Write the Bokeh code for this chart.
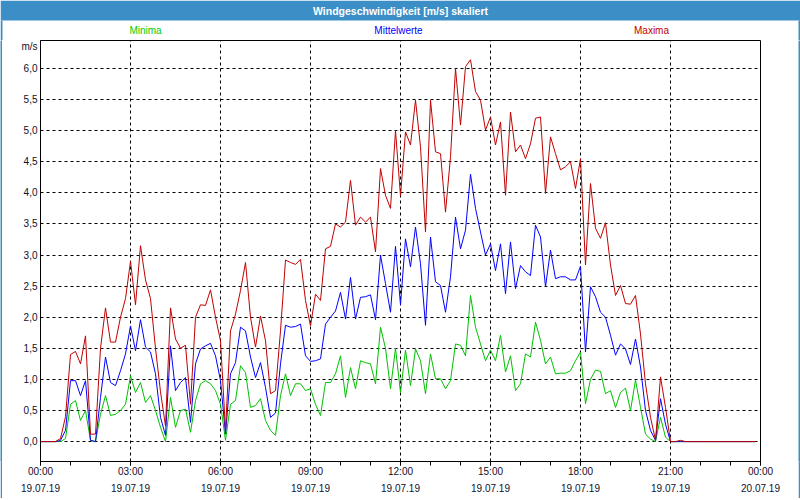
from bokeh.plotting import figure
from bokeh.layouts import column, row
from bokeh.models import Range1d, FixedTicker, ColumnDataSource
from bokeh.core.properties import value
from bokeh.embed import file_html
from bokeh.resources import INLINE

# time in minutes since 19.07.19 00:00, 10-minute steps
minutes = list(range(0, 1440, 10))

maxima = [0, 0, 0, 0, 0.05, 0.4, 1.4, 1.45, 1.25, 1.7,
          0.12, 0.12, 1.5, 2.15, 1.6, 1.6, 2.0, 2.3, 2.9, 2.2,
          3.15, 2.6, 2.3, 1.5, 0.8, 0.25, 2.15, 1.65, 1.5, 1.55,
          0.6, 2.0, 2.2, 2.19, 2.44, 2.0, 1.62, 0.18, 1.78, 2.05,
          2.43, 2.88, 2.0, 1.52, 2.02, 1.62, 0.77, 0.82, 1.78, 2.92,
          2.88, 2.85, 2.93, 2.27, 1.86, 2.37, 2.27, 3.1, 3.14, 3.5,
          3.45, 3.53, 4.2, 3.48, 3.61, 3.53, 3.61, 3.05, 4.39, 3.96,
          3.75, 5.0, 3.95, 4.98, 4.77, 5.49, 4.74, 3.37, 5.49, 4.66,
          4.63, 3.69, 4.58, 6.0, 5.09, 6.03, 6.14, 5.63, 5.49, 5.01,
          5.22, 4.77, 5.14, 3.96, 5.3, 4.66, 4.77, 4.55, 4.79, 5.2,
          5.22, 3.99, 4.9, 4.63, 4.37, 4.42, 4.5, 4.07, 4.55, 2.84,
          4.15, 3.43, 3.27, 3.52, 2.84, 2.35, 2.51, 2.22, 2.21, 2.35,
          1.73, 0.93, 0.39, 0.02, 1.04, 0.55, 0, 0, 0.02, 0,
          0, 0, 0, 0, 0, 0, 0, 0, 0, 0,
          0, 0, 0, 0]

mittelwerte = [0, 0, 0, 0, 0.02, 0.18, 0.98, 0.98, 0.74, 0.98,
               0.02, 0, 0.71, 1.36, 0.95, 0.9, 1.14, 1.41, 1.86, 1.46,
               1.96, 1.52, 1.44, 1.09, 0.39, 0.1, 1.54, 0.82, 0.95, 1.03,
               0.31, 1.25, 1.49, 1.54, 1.58, 1.38, 0.98, 0.12, 1.09, 1.27,
               1.84, 1.78, 1.36, 1.03, 1.27, 0.87, 0.39, 0.46, 1.25, 1.87,
               1.84, 1.85, 1.89, 1.38, 1.29, 1.3, 1.33, 1.89, 2.0, 2.1,
               2.4, 1.97, 2.64, 1.97, 2.32, 2.33, 2.36, 1.96, 3.0, 2.54,
               2.08, 3.14, 2.2, 3.26, 2.81, 3.45, 2.86, 1.87, 3.29, 2.57,
               2.51, 2.08, 2.65, 3.61, 3.1, 3.4, 4.3, 3.75, 3.37, 3.0,
               3.18, 2.75, 3.18, 2.38, 3.21, 2.46, 2.83, 2.73, 2.67, 3.48,
               3.29, 2.49, 3.08, 2.62, 2.65, 2.65, 2.6, 2.6, 2.82, 1.44,
               2.49, 2.33, 2.08, 2.0, 1.71, 1.39, 1.57, 1.49, 1.24, 1.65,
               1.2, 0.5, 0.18, 0.02, 0.69, 0.28, 0, 0, 0, 0,
               0, 0, 0, 0, 0, 0, 0, 0, 0, 0,
               0, 0, 0, 0]

minima = [0, 0, 0, 0, 0, 0.05, 0.6, 0.66, 0.34, 0.5,
          0.02, 0, 0.44, 0.74, 0.42, 0.44, 0.5, 0.6, 1.06, 0.79,
          0.95, 0.63, 0.74, 0.5, 0.23, 0, 0.71, 0.23, 0.5, 0.52,
          0.15, 0.66, 0.93, 0.98, 0.93, 0.82, 0.6, 0.02, 0.6, 0.66,
          1.22, 1.11, 0.55, 0.58, 0.69, 0.34, 0.18, 0.1, 0.74, 1.09,
          0.74, 0.93, 0.93, 0.82, 0.85, 0.6, 0.42, 0.95, 0.95, 1.09,
          1.38, 0.71, 1.19, 0.85, 1.3, 1.27, 1.25, 0.93, 1.84, 1.5,
          0.85, 1.5, 0.79, 1.47, 0.9, 1.49, 1.3, 0.77, 1.41, 1.01,
          1.01, 0.85, 0.98, 1.57, 1.55, 1.38, 2.35, 1.84, 1.57, 1.3,
          1.47, 1.3, 1.71, 1.12, 1.38, 0.82, 0.93, 1.41, 1.36, 1.92,
          1.63, 1.25, 1.36, 1.09, 1.1, 1.1, 1.14, 1.3, 1.44, 0.61,
          1.0, 1.15, 1.13, 0.77, 0.82, 0.55, 0.79, 0.86, 0.5, 0.99,
          0.55, 0.12, 0.04, 0, 0.39, 0.07, 0, 0, 0, 0,
          0, 0, 0, 0, 0, 0, 0, 0, 0, 0,
          0, 0, 0, 0]

x_tick_minutes = [0, 180, 360, 540, 720, 900, 1080, 1260, 1440]
x_tick_times = ["00:00", "03:00", "06:00", "09:00", "12:00", "15:00", "18:00", "21:00", "00:00"]
x_tick_dates = ["19.07.19"] * 8 + ["20.07.19"]
x_minor_minutes = list(range(0, 1441, 60))

y_ticks = [0.0, 0.5, 1.0, 1.5, 2.0, 2.5, 3.0, 3.5, 4.0, 4.5, 5.0, 5.5, 6.0]
y_tick_labels = ["0,0", "0,5", "1,0", "1,5", "2,0", "2,5", "3,0", "3,5", "4,0", "4,5", "5,0", "5,5", "6,0"]
unit_label = "m/s"
unit_pos = 6.37

title_text = "Windgeschwindigkeit [m/s] skaliert"
series_names = ["Minima", "Mittelwerte", "Maxima"]
series_colors = ["#00c000", "#0000ff", "#c00000"]
legend_colors = ["#00cc00", "#0000ff", "#c00000"]

FONT = "Liberation Sans"
TXT = "#10102a"
BLUE = "#3c8fc6"
W, H = 800, 500
HEAD = 40
BAR = 20
EDGE = 2
MAIN_H = H - HEAD - EDGE
MAIN_W = W - 2 * EDGE


def plain(width, height, xr, yr, fill="white"):
    f = figure(width=width, height=height, output_backend="svg", toolbar_location=None,
               x_range=xr, y_range=yr, min_border=0,
               background_fill_color=fill, border_fill_color=fill)
    f.axis.visible = False
    f.grid.visible = False
    f.outline_line_color = None
    return f


# ---- header: title bar + legend texts
hdr = plain(W, HEAD, Range1d(0, W), Range1d(HEAD, 0))
hdr.quad(left=[0], right=[W], top=[0], bottom=[BAR], fill_color=BLUE, line_color=None)
hdr.quad(left=[0, W - EDGE], right=[EDGE, W], top=[BAR, BAR], bottom=[HEAD, HEAD],
         fill_color=BLUE, line_color=None)
hdr.text(x=[W / 2], y=[BAR / 2 + 0.5], text=[title_text], text_align="center",
         text_baseline="middle", text_color="white", text_font=value(FONT),
         text_font_size="10.5px", text_font_style="bold")
hdr.text(x=[145, 398, 651], y=[30, 30, 30], text=series_names, text_align="center",
         text_baseline="middle", text_color=legend_colors, text_font=value(FONT),
         text_font_size="10px")

# ---- main chart
p = figure(width=MAIN_W, height=MAIN_H, output_backend="svg", toolbar_location=None,
           x_range=Range1d(0, 1440), y_range=Range1d(-0.32, 6.45),
           min_border_left=38, min_border_right=38, min_border_top=0, min_border_bottom=37,
           background_fill_color="white", border_fill_color="white")

src = ColumnDataSource(dict(t=minutes, mn=minima, mw=mittelwerte, mx=maxima))
for col, color in zip(["mn", "mw", "mx"], series_colors):
    p.line("t", col, source=src, line_color=color, line_width=1)

p.xgrid.ticker = FixedTicker(ticks=x_tick_minutes[1:-1])
p.ygrid.ticker = FixedTicker(ticks=y_ticks)
for g in (p.xgrid, p.ygrid):
    g.grid_line_color = "black"
    g.grid_line_dash = "3 3"
    g.grid_line_width = 1

p.outline_line_color = "black"
p.outline_line_width = 1

xa = p.xaxis[0]
xa.ticker = FixedTicker(ticks=x_tick_minutes, minor_ticks=x_minor_minutes)
xa.major_label_overrides = {m: f"{t}\n{d}" for m, t, d in zip(x_tick_minutes, x_tick_times, x_tick_dates)}
xa.major_tick_out = 4
xa.major_tick_in = 0
xa.minor_tick_out = 4
xa.minor_tick_in = 0
xa.major_label_standoff = 0
xa.major_label_text_font = FONT
xa.major_label_text_font_size = "10px"
xa.major_label_text_color = TXT
xa.major_label_text_line_height = 1.6
xa.axis_line_color = "black"

ya = p.yaxis[0]
ya.ticker = FixedTicker(ticks=y_ticks + [unit_pos])
ov = {v: s for v, s in zip(y_ticks, y_tick_labels)}
ov[unit_pos] = unit_label
ya.major_label_overrides = ov
ya.major_tick_out = 0
ya.major_tick_in = 0
ya.minor_tick_out = 0
ya.minor_tick_in = 0
ya.major_label_standoff = 3
ya.major_label_text_font = FONT
ya.major_label_text_font_size = "10px"
ya.major_label_text_color = TXT
ya.axis_line_color = "black"

left_edge = plain(EDGE, MAIN_H, Range1d(0, 1), Range1d(0, 1), fill=BLUE)
right_edge = plain(EDGE, MAIN_H, Range1d(0, 1), Range1d(0, 1), fill=BLUE)
bottom_edge = plain(W, EDGE, Range1d(0, 1), Range1d(0, 1), fill=BLUE)

layout = column(hdr, row(left_edge, p, right_edge, spacing=0), bottom_edge, spacing=0)

open("out.html", "w").write(file_html(layout, INLINE))
